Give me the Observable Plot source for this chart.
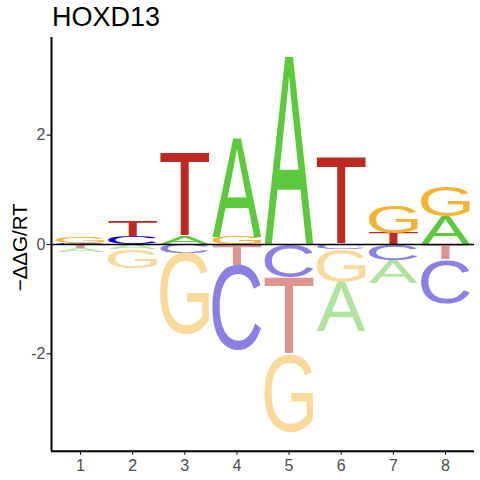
<!DOCTYPE html>
<html>
<head>
<meta charset="utf-8">
<script src="https://cdn.jsdelivr.net/npm/d3@7"></script>
<script src="https://cdn.jsdelivr.net/npm/@observablehq/plot@0.6"></script>
<style>
  html, body { margin: 0; padding: 0; background: white; }
  #wrap { width: 480px; height: 480px; position: relative; overflow: hidden; }
  #title { height: 32px; position: relative; }
  #title span { position: absolute; left: 52px; top: 4px; font: 27px "Liberation Sans", Arial, sans-serif; line-height: 1; color: black; white-space: nowrap; }
  svg { display: block; }
</style>
</head>
<body>
<div id="wrap">
  <div id="title"><span>HOXD13</span></div>
  <div id="chart"></div>
</div>
<script>
// ---- data ----
const positions = [1, 2, 3, 4, 5, 6, 7, 8];
const letters = ["A", "C", "G", "T"];
const valuesA = [-0.073, -0.086, 0.146, 1.80, 3.44, -0.896, -0.414, 0.517];
const valuesC = [0.024, 0.146, -0.159, -1.554, -0.598, -0.086, -0.293, -0.799];
const valuesG = [0.122, -0.340, -1.486, 0.133, -1.433, -0.603, 0.493, 0.562];
const valuesT = [-0.068, 0.274, 1.520, -0.384, -1.400, 1.596, 0.207, -0.274];
const yTicks = [-2, 0, 2];
const title = "HOXD13";
const yLabel = "\u2212\u0394\u0394G/RT";

// ---- style ----
const baseColors = { A: "#5CC83B", C: "#1400C8", G: "#F5B335", T: "#BD2A21" };
const fontFam = "Liberation Sans";

const series = { A: valuesA, C: valuesC, G: valuesG, T: valuesT };

// stack letters per position (positives upward, negatives downward; smaller magnitude near zero)
const rows = [];
positions.forEach((pos, i) => {
  const items = letters.map(l => ({ letter: l, value: series[l][i] }));
  const pos_ = items.filter(d => d.value > 0).sort((a, b) => a.value - b.value);
  const neg_ = items.filter(d => d.value < 0).sort((a, b) => b.value - a.value);
  let acc = 0;
  for (const d of pos_) { rows.push({ pos, letter: d.letter, value: d.value, y0: acc, y1: acc + d.value }); acc += d.value; }
  acc = 0;
  for (const d of neg_) { rows.push({ pos, letter: d.letter, value: d.value, y0: acc, y1: acc + d.value }); acc += d.value; }
});
rows.forEach(d => {
  d.color = d.value >= 0 ? baseColors[d.letter] : d3.interpolateRgb(baseColors[d.letter], "#ffffff")(0.5);
});

const xDomain = [0.444, 8.556];
const yDomain = [-3.78, 3.785];

const svg = Plot.plot({
  width: 480,
  height: 448,
  marginTop: 5,
  marginBottom: 29.3,
  marginLeft: 51,
  marginRight: 6,
  style: { fontFamily: fontFam + ", Arial, sans-serif", fontSize: "16px", color: "black", background: "white" },
  x: { domain: xDomain, ticks: positions, tickSize: 4, tickPadding: 4.5, tickFormat: d => String(d), label: null },
  y: { domain: yDomain, ticks: yTicks, tickSize: 4.5, tickPadding: 1.5, tickFormat: d => String(d), label: null },
  color: { type: "identity" },
  marks: [
    Plot.text(rows, {
      x: "pos",
      y: d => (d.y0 + d.y1) / 2,
      text: "letter",
      fill: "color",
      textAnchor: "start",
      fontSize: 100,
      fontFamily: fontFam
    }),
    Plot.ruleY([0], { stroke: "black", strokeWidth: 1.5 }),
    Plot.ruleX([xDomain[0]], { y1: yDomain[0], y2: yDomain[1], stroke: "black", strokeWidth: 2 }),
    Plot.ruleY([yDomain[0]], { x1: xDomain[0], x2: xDomain[1], stroke: "black", strokeWidth: 2 }),
    Plot.text([yLabel], { frameAnchor: "left", textAnchor: "middle", lineAnchor: "middle", dx: -31, dy: 3, rotate: -90, fontSize: 20.5, fill: "black", fontFamily: fontFam })
  ]
});

document.getElementById("chart").appendChild(svg);

// stretch each letter glyph to fill its box, using Plot's scales
const xs = svg.scale("x"), ys = svg.scale("y");
const ctx = document.createElement("canvas").getContext("2d");
ctx.font = `100px "${fontFam}"`;
const texts = Array.from(svg.querySelectorAll("text")).filter(t => /^[ACGT]$/.test(t.textContent));
texts.forEach((el, i) => {
  const d = rows[i];
  if (!d) return;
  const m = ctx.measureText(d.letter);
  const L = xs.apply(d.pos - 0.47), R = xs.apply(d.pos + 0.47);
  const top = ys.apply(Math.max(d.y0, d.y1)), bottom = ys.apply(Math.min(d.y0, d.y1));
  const inkW = m.actualBoundingBoxLeft + m.actualBoundingBoxRight;
  const inkH = m.actualBoundingBoxAscent + m.actualBoundingBoxDescent;
  const sx = (R - L) / inkW, sy = (bottom - top) / inkH;
  const tx = L + sx * m.actualBoundingBoxLeft, ty = top + sy * m.actualBoundingBoxAscent;
  el.removeAttribute("x"); el.removeAttribute("y"); el.removeAttribute("dy");
  el.setAttribute("transform", `translate(${tx},${ty}) scale(${sx},${sy})`);
  el.setAttribute("font-size", 100);
  el.setAttribute("font-family", fontFam);
  el.setAttribute("text-anchor", "start");
  el.setAttribute("fill", d.color);
});

// tick label colour
svg.querySelectorAll("text").forEach(t => { if (/^-?\d$/.test(t.textContent)) t.setAttribute("fill", "#4D4D4D"); });
</script>
</body>
</html>
